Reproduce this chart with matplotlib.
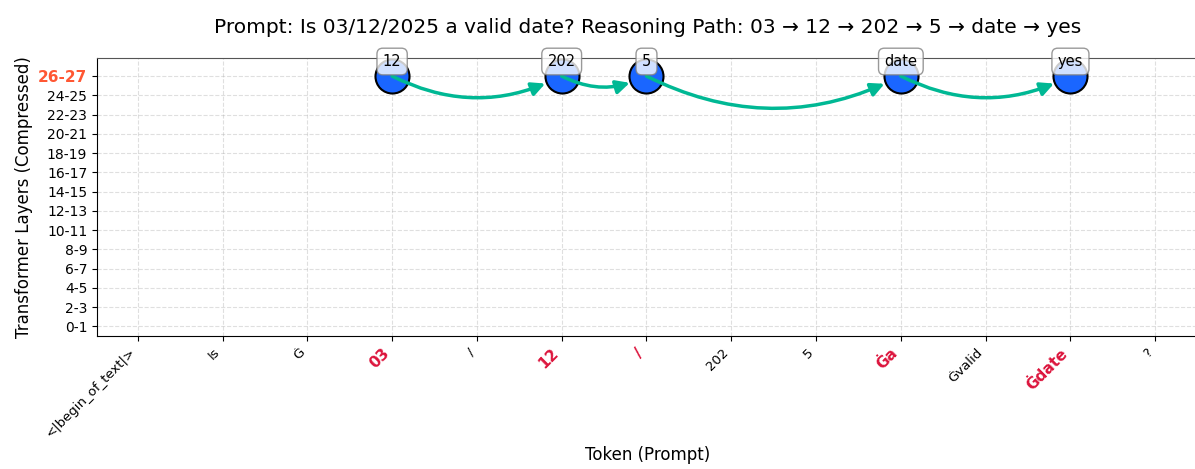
import matplotlib.pyplot as plt
import numpy as np

tokens = ['<|begin_of_text|>', 'Is', 'Ġ', '03', '/', '12', '/', '202', '5', 'Ġa', 'Ġvalid', 'Ġdate', '?']
layer_labels = ['0-1', '2-3', '4-5', '6-7', '8-9', '10-11', '12-13', '14-15',
                '16-17', '18-19', '20-21', '22-23', '24-25', '26-27']
path_pos = [3, 5, 6, 9, 11]
path_layer = [13, 13, 13, 13, 13]
path_text = ['12', '202', '5', 'date', 'yes']
title = 'Prompt: Is 03/12/2025 a valid date? Reasoning Path: 03 \u2192 12 \u2192 202 \u2192 5 \u2192 date \u2192 yes'

fig = plt.figure(figsize=(11.95, 4.69), dpi=100)
ax = fig.add_axes([0.0812, 0.2836, 0.921, 0.5927])

ax.scatter(path_pos, path_layer, s=600, c='#1a66ff', edgecolors='black', linewidths=1.5, zorder=3)

for i in range(len(path_pos) - 1):
    ax.annotate('', xy=(path_pos[i + 1], path_layer[i + 1]), xytext=(path_pos[i], path_layer[i]),
                arrowprops=dict(arrowstyle='-|>', color='#00b894', lw=2.5, mutation_scale=20,
                                connectionstyle='arc3,rad=0.25', shrinkA=0, shrinkB=13),
                zorder=4)

for x, y, t in zip(path_pos, path_layer, path_text):
    ax.annotate(t, (x, y), xytext=(0, 10.5), textcoords='offset points', ha='center', va='center',
                fontsize=10.5, zorder=5,
                bbox=dict(boxstyle='round,pad=0.4', facecolor='white', edgecolor='gray', alpha=0.8))

ax.set_xlim(-0.48, 12.5)
ax.set_ylim(-0.5, 13.94)
ax.set_xticks(np.arange(len(tokens)))
ax.set_xticklabels(tokens, rotation=45, ha='right', fontsize=9.5)
ax.set_yticks(np.arange(len(layer_labels)))
ax.set_yticklabels(layer_labels, fontsize=10)

for i, lab in enumerate(ax.get_xticklabels()):
    if i in path_pos:
        lab.set_color('crimson')
        lab.set_fontweight('bold')
        lab.set_fontsize(11)
top = ax.get_yticklabels()[-1]
top.set_color('#ff5733')
top.set_fontweight('bold')
top.set_fontsize(11)

ax.spines['top'].set_color('#555555')
ax.spines['right'].set_visible(False)
ax.grid(True, linestyle='--', alpha=0.4)
ax.set_xlabel('Token (Prompt)', fontsize=12)
ax.set_ylabel('Transformer Layers (Compressed)', fontsize=12)
ax.set_title(title, fontsize=14.5, pad=18)

fig.savefig('out.png', dpi=100)
